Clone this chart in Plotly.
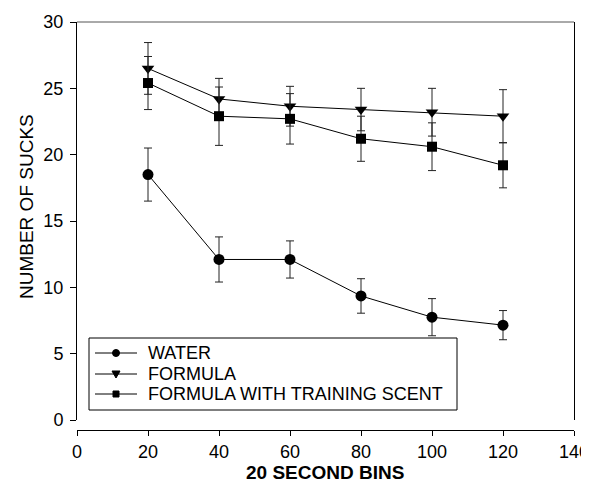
import plotly.graph_objects as go

# bins (seconds)
bins = [20, 40, 60, 80, 100, 120]

# mean sucks per bin
water = [18.5, 12.1, 12.1, 9.35, 7.75, 7.15]
water_err = [2.0, 1.7, 1.4, 1.3, 1.4, 1.1]

formula = [26.5, 24.2, 23.65, 23.4, 23.2, 22.9]
formula_err = [1.95, 1.55, 1.5, 1.6, 1.8, 2.0]

scent = [25.4, 22.9, 22.7, 21.2, 20.6, 19.2]
scent_err = [2.0, 2.2, 1.9, 1.7, 1.8, 1.7]

series_names = ["WATER", "FORMULA", "FORMULA WITH TRAINING SCENT"]

x_ticks = [0, 20, 40, 60, 80, 100, 120, 140]
y_ticks = [0, 5, 10, 15, 20, 25, 30]

# page shows the figure 8px in from the corner, so margins are pulled in by 8px
OFF = 8
W, H = 589, 484
# plot area in screen pixels
L, R, T, B = 77, 574, 22, 430

def px(x):
    return (x - L) / (R - L)

def py(y):
    return (B - y) / (B - T)

fig = go.Figure()

def add_series(name, y, err, symbol, size):
    fig.add_trace(go.Scatter(
        x=bins, y=y, name=name, mode="lines+markers", showlegend=False,
        line=dict(color="black", width=1),
        marker=dict(symbol=symbol, size=size, color="black"),
        error_y=dict(type="data", array=err, visible=True,
                     color="#222222", thickness=1, width=4),
    ))

add_series(series_names[0], water, water_err, "circle", 11)
add_series(series_names[1], formula, formula_err, "triangle-down", 11)
add_series(series_names[2], scent, scent_err, "square", 10)

fig.update_layout(
    width=W, height=H,
    margin=dict(l=L - OFF, r=W - (R - OFF), t=T - OFF, b=H - (B - OFF), autoexpand=False),
    plot_bgcolor="white", paper_bgcolor="white",
    font=dict(family="Arial, Liberation Sans, sans-serif", size=18, color="black"),
    showlegend=False,
    xaxis=dict(range=[0, 140], tickvals=x_ticks, showgrid=False, zeroline=False,
               showline=True, linecolor="black", linewidth=1,
               ticks="outside", ticklen=5, tickcolor="black",
               ticklabeloverflow="allow", automargin=False,
               anchor="free", position=0),
    yaxis=dict(range=[0, 30], tickvals=y_ticks, showgrid=False, zeroline=False,
               domain=[10 / 408, 1], automargin=False,
               showline=True, linecolor="black", linewidth=1, mirror=True,
               ticks="outside", ticklen=6, tickcolor="black", ticklabelstandoff=3),
)

# axis titles
fig.add_annotation(text="<b>20 SECOND BINS</b>", xref="paper", yref="paper",
                   x=px(325), y=py(472), xanchor="center", yanchor="middle",
                   showarrow=False, font=dict(size=19))
fig.add_annotation(text="NUMBER OF SUCKS", xref="paper", yref="paper", textangle=-90,
                   x=px(26), y=py(207), xanchor="center", yanchor="middle",
                   showarrow=False, font=dict(size=19))

# top border of the frame
fig.add_shape(type="line", xref="x domain", yref="y domain",
              x0=0, x1=1, y0=1, y1=1, line=dict(color="#555555", width=1))

# legend box
fig.add_shape(type="rect", xref="paper", yref="paper",
              x0=px(89), x1=px(457), y0=py(338), y1=py(410),
              line=dict(color="black", width=1), fillcolor="white")

rows = [353, 374, 394]
for name, row in zip(series_names, rows):
    fig.add_shape(type="line", xref="paper", yref="paper",
                  x0=px(95), x1=px(137), y0=py(row), y1=py(row),
                  line=dict(color="black", width=1))
    fig.add_annotation(text=name, xref="paper", yref="paper", x=px(146), y=py(row),
                       xanchor="left", yanchor="middle", showarrow=False,
                       font=dict(size=18))

# legend key symbols (pixel sized, anchored at the key centre)
cx = px(116)
fig.add_shape(type="circle", xref="paper", yref="paper", xsizemode="pixel",
              ysizemode="pixel", xanchor=cx, yanchor=py(rows[0]),
              x0=-3.5, x1=3.5, y0=-3.5, y1=3.5,
              line=dict(color="black", width=1), fillcolor="black")
fig.add_shape(type="path", xref="paper", yref="paper", xsizemode="pixel",
              ysizemode="pixel", xanchor=cx, yanchor=py(rows[1]),
              path="M -4,3 L 4,3 L 0,-4 Z",
              line=dict(color="black", width=1), fillcolor="black")
fig.add_shape(type="rect", xref="paper", yref="paper", xsizemode="pixel",
              ysizemode="pixel", xanchor=cx, yanchor=py(rows[2]),
              x0=-3, x1=3, y0=-3, y1=3,
              line=dict(color="black", width=1), fillcolor="black")

fig.write_html("out.html")
